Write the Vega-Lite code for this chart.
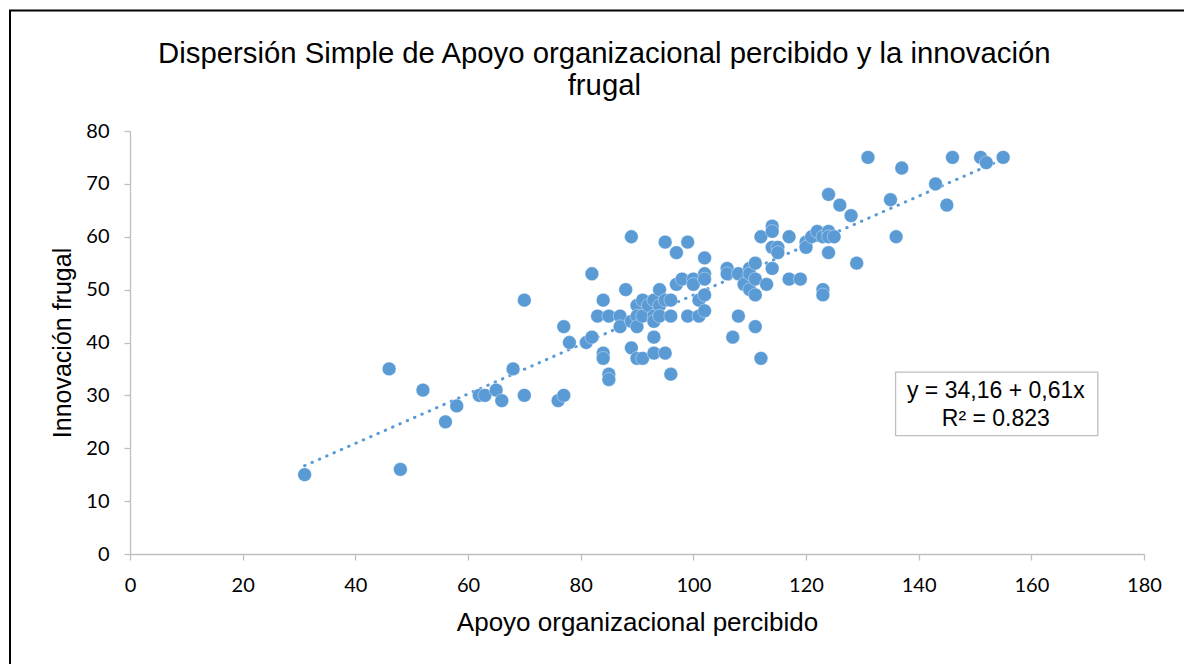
{
  "$schema": "https://vega.github.io/schema/vega-lite/v6.json",
  "width": 1014,
  "height": 423,
  "autosize": {"type": "none"},
  "padding": {"left": 130, "top": 131, "right": 40, "bottom": 110},
  "background": "#ffffff",
  "config": {
    "view": {"stroke": null},
    "axis": {
      "domainColor": "#BFBFBF",
      "domainWidth": 1.3,
      "tickColor": "#BFBFBF",
      "tickWidth": 1.3,
      "tickSize": 6,
      "grid": false,
      "labelFont": "Lato",
      "labelFontSize": 20,
      "labelColor": "#000000",
      "titleFont": "Liberation Sans",
      "titleFontSize": 25,
      "titleFontWeight": "normal",
      "titleColor": "#000000"
    }
  },
  "datasets": {
    "puntos": [
      {"apoyo": 31, "innovacion": 15}, {"apoyo": 48, "innovacion": 16}, {"apoyo": 46, "innovacion": 35},
      {"apoyo": 52, "innovacion": 31}, {"apoyo": 56, "innovacion": 25}, {"apoyo": 58, "innovacion": 28},
      {"apoyo": 62, "innovacion": 30}, {"apoyo": 63, "innovacion": 30}, {"apoyo": 65, "innovacion": 31},
      {"apoyo": 66, "innovacion": 29}, {"apoyo": 68, "innovacion": 35}, {"apoyo": 70, "innovacion": 48},
      {"apoyo": 70, "innovacion": 30}, {"apoyo": 76, "innovacion": 29}, {"apoyo": 77, "innovacion": 30},
      {"apoyo": 77, "innovacion": 43}, {"apoyo": 78, "innovacion": 40}, {"apoyo": 81, "innovacion": 40},
      {"apoyo": 82, "innovacion": 41}, {"apoyo": 82, "innovacion": 53}, {"apoyo": 83, "innovacion": 45},
      {"apoyo": 84, "innovacion": 48}, {"apoyo": 84, "innovacion": 38}, {"apoyo": 84, "innovacion": 37},
      {"apoyo": 85, "innovacion": 45}, {"apoyo": 85, "innovacion": 34}, {"apoyo": 85, "innovacion": 33},
      {"apoyo": 87, "innovacion": 45}, {"apoyo": 87, "innovacion": 43}, {"apoyo": 88, "innovacion": 50},
      {"apoyo": 89, "innovacion": 60}, {"apoyo": 89, "innovacion": 39}, {"apoyo": 89, "innovacion": 44},
      {"apoyo": 90, "innovacion": 47}, {"apoyo": 90, "innovacion": 45}, {"apoyo": 90, "innovacion": 43},
      {"apoyo": 90, "innovacion": 37}, {"apoyo": 91, "innovacion": 48}, {"apoyo": 91, "innovacion": 45},
      {"apoyo": 91, "innovacion": 37}, {"apoyo": 92, "innovacion": 47}, {"apoyo": 93, "innovacion": 48},
      {"apoyo": 93, "innovacion": 45}, {"apoyo": 93, "innovacion": 44}, {"apoyo": 93, "innovacion": 41},
      {"apoyo": 93, "innovacion": 38}, {"apoyo": 94, "innovacion": 50}, {"apoyo": 94, "innovacion": 47},
      {"apoyo": 94, "innovacion": 45}, {"apoyo": 95, "innovacion": 59}, {"apoyo": 95, "innovacion": 38},
      {"apoyo": 95, "innovacion": 48}, {"apoyo": 96, "innovacion": 48}, {"apoyo": 96, "innovacion": 45},
      {"apoyo": 96, "innovacion": 34}, {"apoyo": 97, "innovacion": 57}, {"apoyo": 97, "innovacion": 51},
      {"apoyo": 98, "innovacion": 52}, {"apoyo": 99, "innovacion": 59}, {"apoyo": 99, "innovacion": 45},
      {"apoyo": 100, "innovacion": 52}, {"apoyo": 100, "innovacion": 51}, {"apoyo": 101, "innovacion": 48},
      {"apoyo": 101, "innovacion": 45}, {"apoyo": 102, "innovacion": 56}, {"apoyo": 102, "innovacion": 53},
      {"apoyo": 102, "innovacion": 52}, {"apoyo": 102, "innovacion": 49}, {"apoyo": 102, "innovacion": 46},
      {"apoyo": 106, "innovacion": 54}, {"apoyo": 106, "innovacion": 53}, {"apoyo": 107, "innovacion": 41},
      {"apoyo": 108, "innovacion": 53}, {"apoyo": 108, "innovacion": 45}, {"apoyo": 109, "innovacion": 51},
      {"apoyo": 110, "innovacion": 54}, {"apoyo": 110, "innovacion": 53}, {"apoyo": 110, "innovacion": 50},
      {"apoyo": 111, "innovacion": 55}, {"apoyo": 111, "innovacion": 52}, {"apoyo": 111, "innovacion": 49},
      {"apoyo": 111, "innovacion": 43}, {"apoyo": 112, "innovacion": 60}, {"apoyo": 112, "innovacion": 37},
      {"apoyo": 113, "innovacion": 51}, {"apoyo": 114, "innovacion": 62}, {"apoyo": 114, "innovacion": 61},
      {"apoyo": 114, "innovacion": 58}, {"apoyo": 114, "innovacion": 54}, {"apoyo": 115, "innovacion": 58},
      {"apoyo": 115, "innovacion": 57}, {"apoyo": 117, "innovacion": 60}, {"apoyo": 117, "innovacion": 52},
      {"apoyo": 119, "innovacion": 52}, {"apoyo": 120, "innovacion": 59}, {"apoyo": 120, "innovacion": 58},
      {"apoyo": 121, "innovacion": 60}, {"apoyo": 122, "innovacion": 61}, {"apoyo": 123, "innovacion": 60},
      {"apoyo": 123, "innovacion": 50}, {"apoyo": 123, "innovacion": 49}, {"apoyo": 124, "innovacion": 61},
      {"apoyo": 124, "innovacion": 60}, {"apoyo": 124, "innovacion": 57}, {"apoyo": 124, "innovacion": 68},
      {"apoyo": 125, "innovacion": 60}, {"apoyo": 126, "innovacion": 66}, {"apoyo": 128, "innovacion": 64},
      {"apoyo": 129, "innovacion": 55}, {"apoyo": 131, "innovacion": 75}, {"apoyo": 135, "innovacion": 67},
      {"apoyo": 136, "innovacion": 60}, {"apoyo": 137, "innovacion": 73}, {"apoyo": 143, "innovacion": 70},
      {"apoyo": 145, "innovacion": 66}, {"apoyo": 146, "innovacion": 75}, {"apoyo": 151, "innovacion": 75},
      {"apoyo": 152, "innovacion": 74}, {"apoyo": 155, "innovacion": 75}
    ],
    "tendencia": [
      {"apoyo": 31, "innovacion": 16.7},
      {"apoyo": 155, "innovacion": 74.7}
    ],
    "cuadro": [
      {"apoyo": 135.9, "apoyo2": 171.8, "innovacion": 34.4, "innovacion2": 22.4}
    ],
    "marco": [
      {"apoyo": -21.3, "apoyo2": 200, "innovacion": 102.8, "innovacion2": -30}
    ],
    "ecuacion": [
      {"apoyo": 153.7, "innovacion": 30.8, "texto": "y = 34,16 + 0,61x"},
      {"apoyo": 153.7, "innovacion": 25.5, "texto": "R² = 0.823"}
    ],
    "titulo": [
      {"apoyo": 84.2, "innovacion": 92.8, "texto": "Dispersión Simple de Apoyo organizacional percibido y la innovación"},
      {"apoyo": 84.2, "innovacion": 86.9, "texto": "frugal"}
    ]
  },
  "layer": [
    {
      "data": {"name": "marco"},
      "mark": {"type": "rect", "fill": null, "stroke": "#000000", "strokeWidth": 2, "clip": false},
      "encoding": {
        "x": {"field": "apoyo", "type": "quantitative"},
        "x2": {"field": "apoyo2"},
        "y": {"field": "innovacion", "type": "quantitative"},
        "y2": {"field": "innovacion2"}
      }
    },
    {
      "data": {"name": "titulo"},
      "mark": {"type": "text", "font": "Liberation Sans", "fontSize": 29.3, "color": "#000000", "align": "center", "baseline": "alphabetic"},
      "encoding": {
        "x": {"field": "apoyo", "type": "quantitative"},
        "y": {"field": "innovacion", "type": "quantitative"},
        "text": {"field": "texto"}
      }
    },
    {
      "data": {"name": "tendencia"},
      "mark": {"type": "line", "color": "#5B9BD5", "strokeWidth": 3, "strokeDash": [0.5, 7.5], "strokeCap": "round"},
      "encoding": {
        "x": {"field": "apoyo", "type": "quantitative"},
        "y": {"field": "innovacion", "type": "quantitative"}
      }
    },
    {
      "data": {"name": "puntos"},
      "mark": {"type": "circle", "size": 190, "color": "#5B9BD5", "opacity": 1, "stroke": "#ffffff", "strokeWidth": 0.6, "strokeOpacity": 0.6},
      "encoding": {
        "x": {
          "field": "apoyo", "type": "quantitative",
          "scale": {"domain": [0, 180], "nice": false, "zero": true},
          "axis": {"title": "Apoyo organizacional percibido", "titleFontSize": 26, "values": [0, 20, 40, 60, 80, 100, 120, 140, 160, 180], "labelPadding": 15, "titlePadding": 14, "labelFlush": false}
        },
        "y": {
          "field": "innovacion", "type": "quantitative",
          "scale": {"domain": [0, 80], "nice": false, "zero": true},
          "axis": {"title": "Innovación frugal", "values": [0, 10, 20, 30, 40, 50, 60, 70, 80], "labelPadding": 15, "titlePadding": 10, "labelFlush": false}
        }
      }
    },
    {
      "data": {"name": "cuadro"},
      "mark": {"type": "rect", "fill": "#ffffff", "stroke": "#BFBFBF", "strokeWidth": 1.3},
      "encoding": {
        "x": {"field": "apoyo", "type": "quantitative"},
        "x2": {"field": "apoyo2"},
        "y": {"field": "innovacion", "type": "quantitative"},
        "y2": {"field": "innovacion2"}
      }
    },
    {
      "data": {"name": "ecuacion"},
      "mark": {"type": "text", "font": "Liberation Sans", "fontSize": 23, "color": "#000000", "align": "center", "baseline": "middle"},
      "encoding": {
        "x": {"field": "apoyo", "type": "quantitative"},
        "y": {"field": "innovacion", "type": "quantitative"},
        "text": {"field": "texto"}
      }
    }
  ]
}
